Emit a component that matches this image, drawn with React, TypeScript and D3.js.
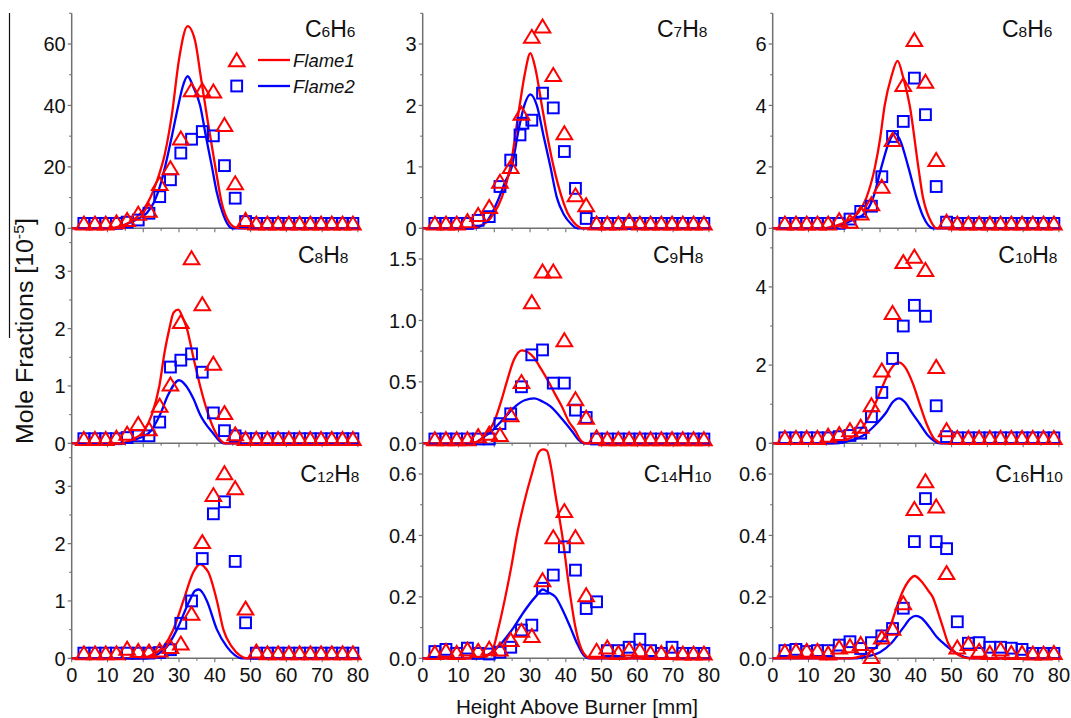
import React from "react";
import * as d3 from "d3";

// ---------------- data ----------------
// measurement heights [mm] shared by the symbol series
const MX = [3.4, 6.5, 9.5, 12.5, 15.5, 18.6, 21.6, 24.6, 27.6, 30.5, 33.5, 36.5, 39.6, 42.7, 45.7, 48.6, 51.6, 54.7, 57.7, 60.7, 63.7, 66.7, 69.7, 72.7, 75.7, 78.6];

const SPECIES = ["C6H6", "C7H8", "C8H6", "C8H8", "C9H8", "C10H8", "C12H8", "C14H10", "C16H10"];
const LEGEND = ["Flame1", "Flame2"];
const X_TICKS = [0, 10, 20, 30, 40, 50, 60, 70, 80];
const Y_MAX = [70, 3.5, 7, 3.75, 1.75, 5.5, 3.75, 0.7, 0.7];
const Y_MAJOR = [20, 1, 2, 1, 0.5, 2, 1, 0.2, 0.2];
const Y_MINOR = [10, 0.5, 1, 0.5, 0.25, 1, 0.5, 0.1, 0.1];
const Y_DECIMALS = [0, 0, 0, 0, 1, 0, 0, 1, 1];

// experimental symbols (Flame1 = triangles, Flame2 = squares)
const C6H6_F1 = [1.6, 1.6, 1.6, 2.0, 2.8, 4.8, 5.8, 14.5, 19.6, 29.3, 45, 45, 44.6, 33.7, 14.7, 2.8, 1.6, 1.6, 1.6, 1.6, 1.6, 1.6, 1.6, 1.6, 1.6, 1.6];
const C6H6_F2 = [1.6, 1.6, 1.6, 1.6, 2.0, 2.7, 4.9, 10.3, 15.8, 24.5, 29, 31.5, 30.1, 20.4, 9.8, 2.2, 1.6, 1.6, 1.6, 1.6, 1.6, 1.6, 1.6, 1.6, 1.6, 1.6];

const C7H8_F1 = [0.08, 0.08, 0.08, 0.12, 0.22, 0.35, 0.76, 1.0, 1.87, 3.12, 3.29, 2.5, 1.55, 0.54, 0.38, 0.08, 0.08, 0.08, 0.12, 0.08, 0.08, 0.08, 0.08, 0.08, 0.08, 0.08];
const C7H8_F2X = [3.4, 6.5, 9.5, 12.5, 15.5, 18.6, 21.6, 24.6, 27.2, 28.0, 30.5, 33.5, 36.5, 39.6, 42.7, 45.7, 48.6, 51.6, 54.7, 57.7, 60.7, 63.7, 66.7, 69.7, 72.7, 75.7, 78.6];
const C7H8_F2 = [0.08, 0.08, 0.08, 0.08, 0.13, 0.19, 0.68, 1.11, 1.52, 1.71, 1.76, 2.2, 1.96, 1.25, 0.65, 0.16, 0.08, 0.08, 0.08, 0.08, 0.08, 0.08, 0.08, 0.08, 0.08, 0.08, 0.08];

const C8H6_F1 = [0.16, 0.16, 0.16, 0.16, 0.16, 0.27, 0.22, 0.49, 0.79, 1.36, 2.88, 4.67, 6.14, 4.78, 2.23, 0.22, 0.16, 0.16, 0.16, 0.16, 0.16, 0.16, 0.16, 0.16, 0.16, 0.16];
const C8H6_F2 = [0.16, 0.16, 0.16, 0.16, 0.16, 0.16, 0.3, 0.55, 0.72, 1.68, 2.99, 3.48, 4.89, 3.7, 1.36, 0.2, 0.16, 0.16, 0.16, 0.16, 0.16, 0.16, 0.16, 0.16, 0.16, 0.16];

const C8H8_F1 = [0.08, 0.08, 0.08, 0.1, 0.17, 0.34, 0.25, 0.66, 1.03, 2.12, 3.23, 2.43, 1.39, 0.53, 0.16, 0.08, 0.08, 0.08, 0.08, 0.08, 0.08, 0.08, 0.08, 0.08, 0.08, 0.08];
const C8H8_F2 = [0.08, 0.08, 0.08, 0.08, 0.1, 0.13, 0.13, 0.37, 1.33, 1.45, 1.56, 1.24, 0.53, 0.22, 0.13, 0.08, 0.08, 0.08, 0.08, 0.08, 0.08, 0.08, 0.08, 0.08, 0.08, 0.08];

const C9H8_F1 = [0.035, 0.035, 0.035, 0.035, 0.06, 0.08, 0.07, 0.23, 0.5, 1.15, 1.4, 1.4, 0.84, 0.36, 0.21, 0.05, 0.035, 0.035, 0.035, 0.035, 0.035, 0.035, 0.035, 0.035, 0.035, 0.035];
const C9H8_F2 = [0.035, 0.035, 0.035, 0.035, 0.035, 0.035, 0.16, 0.24, 0.46, 0.72, 0.76, 0.49, 0.49, 0.27, 0.21, 0.035, 0.035, 0.035, 0.035, 0.035, 0.035, 0.035, 0.035, 0.035, 0.035, 0.035];

const C10H8_F1 = [0.14, 0.14, 0.14, 0.14, 0.2, 0.24, 0.34, 0.43, 0.98, 1.87, 3.34, 4.64, 4.78, 4.44, 1.96, 0.34, 0.14, 0.14, 0.14, 0.14, 0.14, 0.14, 0.14, 0.14, 0.14, 0.14];
const C10H8_F2 = [0.14, 0.14, 0.14, 0.14, 0.14, 0.17, 0.2, 0.26, 0.68, 1.3, 2.17, 3.0, 3.53, 3.25, 0.96, 0.17, 0.14, 0.14, 0.14, 0.14, 0.14, 0.14, 0.14, 0.14, 0.14, 0.14];

const C12H8_F1 = [0.09, 0.09, 0.09, 0.09, 0.17, 0.13, 0.12, 0.14, 0.2, 0.26, 0.78, 2.03, 2.85, 3.23, 2.97, 0.87, 0.12, 0.09, 0.09, 0.09, 0.09, 0.09, 0.09, 0.09, 0.09, 0.09];
const C12H8_F2 = [0.09, 0.09, 0.09, 0.09, 0.09, 0.09, 0.09, 0.1, 0.15, 0.61, 1.0, 1.74, 2.52, 2.73, 1.69, 0.62, 0.09, 0.09, 0.09, 0.09, 0.09, 0.09, 0.09, 0.09, 0.09, 0.09];

const C14H10_F1 = [0.018, 0.025, 0.018, 0.029, 0.025, 0.032, 0.029, 0.06, 0.09, 0.073, 0.255, 0.395, 0.48, 0.395, 0.206, 0.025, 0.036, 0.018, 0.029, 0.027, 0.018, 0.018, 0.018, 0.016, 0.016, 0.016];
const C14H10_F2 = [0.022, 0.029, 0.016, 0.033, 0.016, 0.014, 0.02, 0.036, 0.092, 0.108, 0.228, 0.271, 0.363, 0.287, 0.162, 0.184, 0.025, 0.025, 0.036, 0.062, 0.025, 0.016, 0.036, 0.016, 0.016, 0.016];

const C16H10_F1 = [0.022, 0.025, 0.025, 0.025, 0.016, 0.036, 0.04, 0.047, 0.005, 0.068, 0.097, 0.18, 0.487, 0.577, 0.495, 0.278, 0.036, 0.047, 0.025, 0.018, 0.029, 0.018, 0.018, 0.016, 0.016, 0.018];
const C16H10_F2 = [0.025, 0.029, 0.022, 0.025, 0.025, 0.043, 0.054, 0.032, 0.051, 0.073, 0.097, 0.163, 0.38, 0.52, 0.38, 0.357, 0.119, 0.049, 0.051, 0.036, 0.036, 0.033, 0.029, 0.016, 0.016, 0.016];

// model curves [height mm, mole fraction]
const C6H6_M1 = [[0, 0], [10, 0], [14, 0.8], [16, 1.8], [18, 3.5], [20, 6], [22, 10], [24, 16], [26, 24], [28, 37], [30, 55], [32.4, 65.8], [34.5, 61], [36, 50], [38, 35], [40, 21], [42, 8], [44, 2], [46, 0.2], [48, 0], [80, 0]];
const C6H6_M2 = [[0, 0], [12, 0], [14.5, 1], [18, 2.8], [21, 5], [23, 8.5], [25, 15], [26.1, 20], [28, 30], [29.8, 40], [31, 46], [32.4, 49.5], [34, 46], [35.9, 40], [37.5, 30], [39.2, 20], [40.5, 12], [42.2, 5], [43.5, 1.5], [44.8, 0], [80, 0]];

const C7H8_M1 = [[0, 0], [13, 0], [16, 0.04], [17.9, 0.1], [20, 0.25], [22.1, 0.5], [24.5, 1.0], [27.1, 2.0], [28.5, 2.5], [30.1, 2.85], [31.5, 2.6], [33.3, 2.0], [35, 1.45], [36.6, 1.0], [38.9, 0.5], [40.5, 0.25], [42.2, 0.1], [45, 0], [80, 0]];
const C7H8_M2 = [[0, 0], [14, 0], [18, 0.12], [21, 0.45], [23, 0.75], [24.9, 1.0], [26.8, 1.6], [28.4, 2.0], [30.1, 2.18], [31.9, 2.0], [33.8, 1.5], [35.7, 1.0], [37.5, 0.5], [39.5, 0.22], [41.5, 0.07], [43.2, 0], [80, 0]];

const C8H6_M1 = [[0, 0], [13, 0], [18, 0.1], [21, 0.25], [23.9, 0.5], [26.2, 1.0], [28.6, 2.0], [30, 2.9], [31.3, 4.0], [33.2, 4.95], [34.9, 5.45], [36.5, 4.9], [38.3, 4.0], [40.7, 2.0], [42, 1.0], [43.2, 0.5], [43.9, 0.3], [45.8, 0], [80, 0]];
const C8H6_M2 = [[0, 0], [16, 0], [20, 0.15], [23, 0.3], [25.8, 0.5], [28.1, 1.0], [30.4, 2.0], [32.5, 2.8], [34.1, 3.1], [35.5, 2.9], [37.9, 2.0], [40.2, 1.0], [42, 0.4], [44.8, 0], [80, 0]];

const C8H8_M1 = [[0, 0], [13.5, 0], [17, 0.07], [20, 0.2], [22.4, 0.5], [24.5, 1.0], [26, 1.6], [27.3, 2.0], [28.5, 2.28], [29.8, 2.33], [31, 2.2], [32.2, 2.0], [34, 1.5], [35.9, 1.0], [38.2, 0.5], [40.1, 0.2], [42.9, 0], [80, 0]];
const C8H8_M2 = [[0, 0], [14.5, 0], [18, 0.07], [21.9, 0.2], [24.7, 0.5], [27, 0.85], [30, 1.1], [32, 1.0], [34, 0.78], [35.9, 0.5], [39.2, 0.2], [42.4, 0], [80, 0]];

const C9H8_M1 = [[0, 0], [13.3, 0], [17, 0.05], [20.3, 0.2], [22, 0.35], [23.5, 0.5], [25.5, 0.68], [27.7, 0.757], [29.5, 0.74], [31, 0.7], [33, 0.61], [35.2, 0.5], [37, 0.4], [38.9, 0.3], [40.8, 0.18], [42.7, 0.1], [44, 0.03], [45.5, 0], [80, 0]];
const C9H8_M2 = [[0, 0], [14.2, 0], [17, 0.05], [19.3, 0.1], [22.6, 0.2], [25.9, 0.3], [28.5, 0.35], [31.2, 0.365], [33.5, 0.34], [35.7, 0.3], [38.9, 0.2], [41.7, 0.1], [43.5, 0.03], [45, 0], [80, 0]];

const C10H8_M1 = [[0, 0], [15, 0], [19, 0.05], [23, 0.2], [25.8, 0.5], [28.6, 1.0], [30.9, 1.5], [33, 1.9], [35.1, 2.07], [37, 1.95], [39.3, 1.5], [41.1, 1.0], [43, 0.5], [45.3, 0.1], [47.6, 0], [80, 0]];
const C10H8_M2 = [[0, 0], [17.9, 0], [22, 0.08], [25.3, 0.2], [29, 0.5], [31.8, 0.8], [33.5, 1.05], [35.3, 1.15], [37, 1.05], [38.8, 0.8], [41.1, 0.5], [43.4, 0.2], [45, 0.07], [46.7, 0], [80, 0]];

const C12H8_M1 = [[0, 0], [19, 0], [22, 0.05], [25.6, 0.2], [28.4, 0.5], [31.2, 1.0], [34, 1.5], [35.9, 1.645], [37, 1.6], [38.2, 1.5], [40.6, 1.0], [42.4, 0.5], [44.8, 0.2], [47, 0.05], [49, 0], [80, 0]];
const C12H8_M2 = [[0, 0], [21, 0], [24, 0.07], [26.6, 0.2], [29.4, 0.5], [32.9, 1.0], [34.5, 1.18], [35.6, 1.2], [36.5, 1.15], [37.8, 1.0], [40.6, 0.5], [43.4, 0.2], [45.5, 0.06], [47.6, 0], [80, 0]];

const C14H10_M1 = [[0, 0], [15, 0], [17.5, 0.005], [19.3, 0.02], [21.2, 0.1], [23.1, 0.2], [24.8, 0.3], [26.3, 0.4], [28.2, 0.5], [30.5, 0.6], [32.5, 0.672], [33.6, 0.68], [34.7, 0.676], [35.9, 0.62], [37, 0.54], [39, 0.4], [41.3, 0.2], [42.7, 0.1], [44.8, 0.02], [46.9, 0], [80, 0]];
const C14H10_M2 = [[0, 0], [15, 0], [18, 0.01], [22.1, 0.05], [25.4, 0.1], [28.2, 0.15], [31.5, 0.2], [33.6, 0.224], [35, 0.215], [37.1, 0.2], [39.4, 0.15], [41.3, 0.1], [43.1, 0.05], [45, 0.01], [46.4, 0], [80, 0]];

const C16H10_M1 = [[0, 0], [21.6, 0], [25, 0.008], [27.2, 0.02], [30, 0.05], [32.7, 0.1], [34.5, 0.16], [35.7, 0.2], [37.9, 0.25], [39.7, 0.268], [41.6, 0.25], [43.5, 0.22], [44.7, 0.2], [46.5, 0.14], [47.6, 0.1], [49, 0.05], [50.9, 0.02], [53, 0.005], [55, 0], [80, 0]];
const C16H10_M2 = [[0, 0], [23.4, 0], [27, 0.008], [30, 0.02], [33.2, 0.05], [36.5, 0.1], [38.5, 0.13], [40, 0.138], [41.5, 0.132], [43.9, 0.1], [45.8, 0.07], [47.6, 0.05], [50.9, 0.02], [53.5, 0.005], [56, 0], [80, 0]];

const F1_DATA = [C6H6_F1, C7H8_F1, C8H6_F1, C8H8_F1, C9H8_F1, C10H8_F1, C12H8_F1, C14H10_F1, C16H10_F1];
const F2_DATA = [C6H6_F2, C7H8_F2, C8H6_F2, C8H8_F2, C9H8_F2, C10H8_F2, C12H8_F2, C14H10_F2, C16H10_F2];
const F2_X = [MX, C7H8_F2X, MX, MX, MX, MX, MX, MX, MX];
const M1_DATA = [C6H6_M1, C7H8_M1, C8H6_M1, C8H8_M1, C9H8_M1, C10H8_M1, C12H8_M1, C14H10_M1, C16H10_M1];
const M2_DATA = [C6H6_M2, C7H8_M2, C8H6_M2, C8H8_M2, C9H8_M2, C10H8_M2, C12H8_M2, C14H10_M2, C16H10_M2];

// ---------------- layout / style ----------------
const W = 1071;
const H = 718;
const COL_X0 = [71.7, 422.7, 772.7];
const COL_W = 286.2;
const ROW_Y0 = [13.3, 228.3, 443.3];
const ROW_H = 215;
const TITLE_BASE = [36.7, 263.3, 482];
const TITLE_DX = [-2.5, -1.5, -6.5, -9.5, -5.5, -1.5, 1.5, 2.5, 4];
const FONT = "'Liberation Sans', Arial, Helvetica, sans-serif";
const RED = "#ff0000";
const BLUE = "#0000ff";
const AXIS = "#707070";
const TICK_FS = 20;
const LINE_W = 2.3;
const MARK_W = 2;

function formulaParts(s: string) {
  const parts: { t: string; sub: boolean }[] = [];
  const re = /([A-Z][a-z]?)|(\d+)/g;
  let m;
  while ((m = re.exec(s))) {
    if (m[1]) parts.push({ t: m[1], sub: false });
    else parts.push({ t: m[2], sub: true });
  }
  return parts;
}

function triPath(cx: number, cy: number) {
  return `M${cx},${cy - 6.8}L${cx + 7.8},${cy + 6.2}L${cx - 7.8},${cy + 6.2}Z`;
}

function Panel({ i }: { i: number }) {
  const col = i % 3;
  const row = Math.floor(i / 3);
  const x0 = COL_X0[col];
  const x1 = x0 + COL_W;
  const yb = ROW_Y0[row] + ROW_H;
  const yt = ROW_Y0[row];
  const x = d3.scaleLinear().domain([0, 80]).range([x0, x1]);
  const y = d3.scaleLinear().domain([0, Y_MAX[i]]).range([yb, yt]);
  const line = d3
    .line<number[]>()
    .x((d) => x(d[0]))
    .y((d) => y(d[1]))
    .curve(d3.curveMonotoneX);

  const eps = 1e-9;
  const major = d3.range(0, Y_MAX[i] + eps, Y_MAJOR[i]);
  const minor = d3
    .range(0, Y_MAX[i] + eps, Y_MINOR[i])
    .filter((v) => Math.abs(v / Y_MAJOR[i] - Math.round(v / Y_MAJOR[i])) > 1e-6);
  const fmt = d3.format(Y_DECIMALS[i] ? ".1f" : "d");
  const xt = d3.range(0, 80 + eps, 5);

  const f1 = F1_DATA[i];
  const f2 = F2_DATA[i];
  const f2x = F2_X[i];
  const half = 5.4;

  return (
    <g>
      {/* axes */}
      <line x1={x0} x2={x0} y1={yt} y2={yb} stroke={AXIS} strokeWidth={1.5} />
      <line x1={x0} x2={x1} y1={yb} y2={yb} stroke={AXIS} strokeWidth={1.5} />
      {major.map((v) => (
        <line key={"ym" + v} x1={x0 - 4} x2={x0} y1={y(v)} y2={y(v)} stroke={AXIS} strokeWidth={1.2} />
      ))}
      {minor.map((v) => (
        <line key={"yn" + v} x1={x0 - 2.5} x2={x0} y1={y(v)} y2={y(v)} stroke={AXIS} strokeWidth={1.1} />
      ))}
      {xt.map((v) => (
        <line key={"xt" + v} x1={x(v)} x2={x(v)} y1={yb} y2={yb + (v % 10 === 0 ? 4 : 2.5)} stroke={AXIS} strokeWidth={1.1} />
      ))}
      {major.map((v) => (
        <text key={"yl" + v} x={x0 - 6} y={y(v)} dy="0.36em" textAnchor="end" fontSize={TICK_FS} fill="#111">
          {fmt(v)}
        </text>
      ))}
      {row === 2 &&
        X_TICKS.map((v) => (
          <text key={"xl" + v} x={x(v)} y={yb + 23.8} textAnchor="middle" fontSize={TICK_FS} fill="#111">
            {v}
          </text>
        ))}

      {/* model curves */}
      <path d={line(M2_DATA[i]) || ""} fill="none" stroke={BLUE} strokeWidth={LINE_W} strokeLinejoin="round" />
      <path d={line(M1_DATA[i]) || ""} fill="none" stroke={RED} strokeWidth={LINE_W} strokeLinejoin="round" />

      {/* experimental symbols */}
      {f2.map((v, k) => (
        <rect key={"s" + k} x={x(f2x[k]) - half} y={y(v) - half} width={2 * half} height={2 * half} fill="none" stroke={BLUE} strokeWidth={MARK_W} />
      ))}
      {f1.map((v, k) => (
        <path key={"t" + k} d={triPath(x(MX[k]), y(v))} fill="none" stroke={RED} strokeWidth={MARK_W} strokeLinejoin="miter" />
      ))}

      {/* species label */}
      <text x={x1 + TITLE_DX[i]} y={TITLE_BASE[row]} textAnchor="end" fontSize={23} fill="#111">
        {formulaParts(SPECIES[i]).map((p, k) => (
          <tspan key={k} fontSize={p.sub ? 15.5 : 23}>
            {p.t}
          </tspan>
        ))}
      </text>

      {/* legend in first panel */}
      {i === 0 && (
        <g>
          <path d={triPath(236.7, 60)} fill="none" stroke={RED} strokeWidth={MARK_W} />
          <line x1={258} x2={290} y1={60} y2={60} stroke={RED} strokeWidth={LINE_W} />
          <text x={293} y={66.5} fontSize={18.5} fontStyle="italic" fill="#111">
            {LEGEND[0]}
          </text>
          <rect x={236.7 - half} y={86 - half} width={2 * half} height={2 * half} fill="none" stroke={BLUE} strokeWidth={MARK_W} />
          <line x1={258} x2={290} y1={86} y2={86} stroke={BLUE} strokeWidth={LINE_W} />
          <text x={293} y={92.5} fontSize={18.5} fontStyle="italic" fill="#111">
            {LEGEND[1]}
          </text>
        </g>
      )}
    </g>
  );
}

export default function App() {
  return (
    <svg
      width={W}
      height={H}
      viewBox={`0 0 ${W} ${H}`}
      style={{ position: "fixed", left: 0, top: 0, background: "#fff", display: "block" }}
      fontFamily={FONT}
    >
      <rect x={0} y={0} width={W} height={H} fill="#fff" />
      {SPECIES.map((_, i) => (
        <Panel key={i} i={i} />
      ))}
      {/* y axis title */}
      <line x1={9.5} x2={9.5} y1={13} y2={338} stroke="#111" strokeWidth={1.2} />
      <text transform="translate(33,331) rotate(-90) scale(1.06,1)" textAnchor="middle" fontSize={23.5} fill="#111">
        Mole Fractions [10
        <tspan dy={-9} fontSize={15}>
          -5
        </tspan>
        <tspan dy={9}>]</tspan>
      </text>
      {/* x axis title */}
      <text transform="translate(577,714) scale(1.06,1)" textAnchor="middle" fontSize={19.5} fill="#111">
        Height Above Burner [mm]
      </text>
    </svg>
  );
}
